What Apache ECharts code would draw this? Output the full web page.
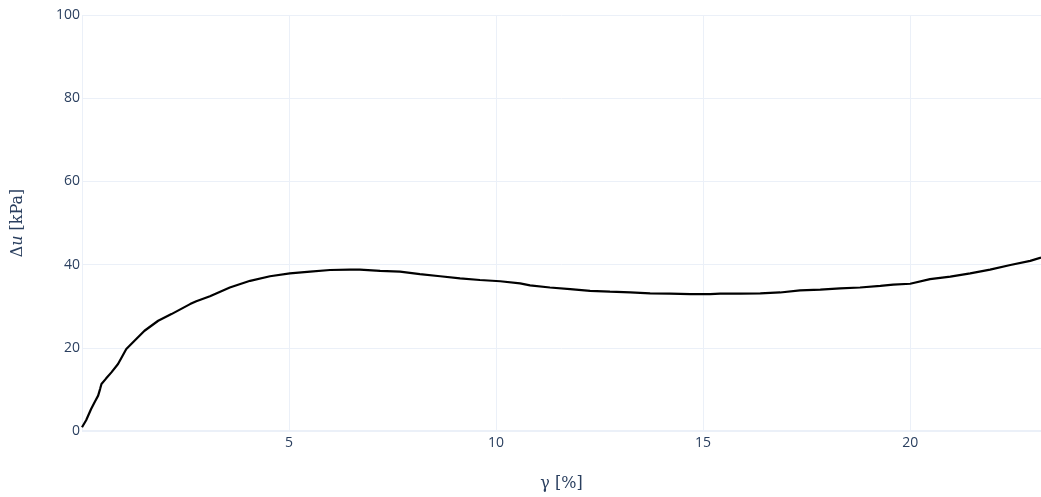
<!DOCTYPE html>
<html>
<head>
<meta charset="utf-8">
<script src="https://cdn.jsdelivr.net/npm/echarts@6/dist/echarts.min.js"></script>
<style>
html,body{margin:0;padding:0;background:#fff;}
#chart{width:1041px;height:497px;}
</style>
</head>
<body>
<div id="chart"></div>
<script>
// strain gamma [%]
var gammaValues = [0.00, 0.10, 0.22, 0.32, 0.39, 0.44, 0.47, 0.58, 0.71, 0.87, 1.07, 1.31, 1.51, 1.84, 2.16, 2.61, 2.76, 3.09, 3.57, 4.06, 4.54, 5.02, 5.51, 5.99, 6.47, 6.71, 7.20, 7.68, 8.16, 8.65, 9.13, 9.61, 10.10, 10.58, 10.82, 11.30, 11.79, 12.27, 12.75, 13.24, 13.72, 14.20, 14.69, 15.17, 15.41, 15.89, 16.38, 16.86, 17.34, 17.83, 18.31, 18.79, 19.28, 19.59, 20.00, 20.48, 20.97, 21.45, 21.93, 22.42, 22.90, 23.16];
// excess pore pressure Delta u [kPa]
var duValues = [0.9, 2.6, 5.3, 7.2, 8.5, 10.2, 11.3, 12.6, 14.1, 16.1, 19.7, 22.1, 24.1, 26.5, 28.1, 30.5, 31.2, 32.4, 34.5, 36.1, 37.2, 37.9, 38.3, 38.7, 38.8, 38.8, 38.5, 38.3, 37.7, 37.2, 36.7, 36.3, 36.0, 35.5, 35.0, 34.5, 34.1, 33.7, 33.5, 33.3, 33.1, 33.0, 32.9, 32.9, 33.0, 33.0, 33.1, 33.3, 33.8, 34.0, 34.3, 34.5, 34.9, 35.2, 35.4, 36.5, 37.1, 37.9, 38.8, 39.9, 40.9, 41.7];
var xTicks = [5, 10, 15, 20];
var yTicks = [0, 20, 40, 60, 80, 100];

var seriesData = gammaValues.map(function (g, i) { return [g, duValues[i]]; });

var chart = echarts.init(document.getElementById('chart'));
var tickFont = {fontFamily: '"Open Sans", sans-serif', fontSize: 14, color: '#2a3f5f'};
chart.setOption({
  animation: false,
  backgroundColor: '#ffffff',
  grid: {left: 82, right: 0, top: 15, bottom: 65, containLabel: false},
  xAxis: {
    type: 'value',
    min: 0,
    max: 23.16,
    interval: 5,
    axisLine: {show: false},
    axisTick: {show: false},
    splitLine: {show: true, lineStyle: {color: '#ebf0f8', width: 1}},
    axisLabel: Object.assign({
      margin: 5,
      showMinLabel: false,
      showMaxLabel: false,
      formatter: function (v) { return xTicks.indexOf(v) >= 0 ? String(v) : ''; }
    }, tickFont),
    name: 'γ [%]',
    nameLocation: 'middle',
    nameGap: 45,
    nameTextStyle: {fontFamily: '"DejaVu Serif", "Liberation Serif", serif', fontSize: 16, color: '#2a3f5f'}
  },
  yAxis: {
    type: 'value',
    min: 0,
    max: 100,
    interval: 20,
    axisLine: {show: false},
    axisTick: {show: false},
    splitLine: {show: true, lineStyle: {color: '#ebf0f8', width: 1}},
    axisLabel: Object.assign({
      margin: 2,
      formatter: function (v) { return yTicks.indexOf(v) >= 0 ? String(v) : ''; }
    }, tickFont),
    name: 'Δ{i|u} [kPa]',
    nameLocation: 'middle',
    nameRotate: 90,
    nameGap: 56,
    nameTextStyle: {
      fontFamily: '"DejaVu Serif", "Liberation Serif", serif', fontSize: 16, color: '#2a3f5f',
      rich: {i: {fontFamily: '"DejaVu Serif", "Liberation Serif", serif', fontStyle: 'italic', fontSize: 16, color: '#2a3f5f'}}
    }
  },
  series: [{
    type: 'line',
    data: seriesData,
    showSymbol: false,
    smooth: false,
    lineStyle: {color: '#000000', width: 2.2},
    z: 5
  }, {
    type: 'line',
    data: [[0, 0], [23.16, 0]],
    showSymbol: false,
    silent: true,
    lineStyle: {color: '#ebf0f8', width: 2},
    z: 1
  }]
});
</script>
</body>
</html>
